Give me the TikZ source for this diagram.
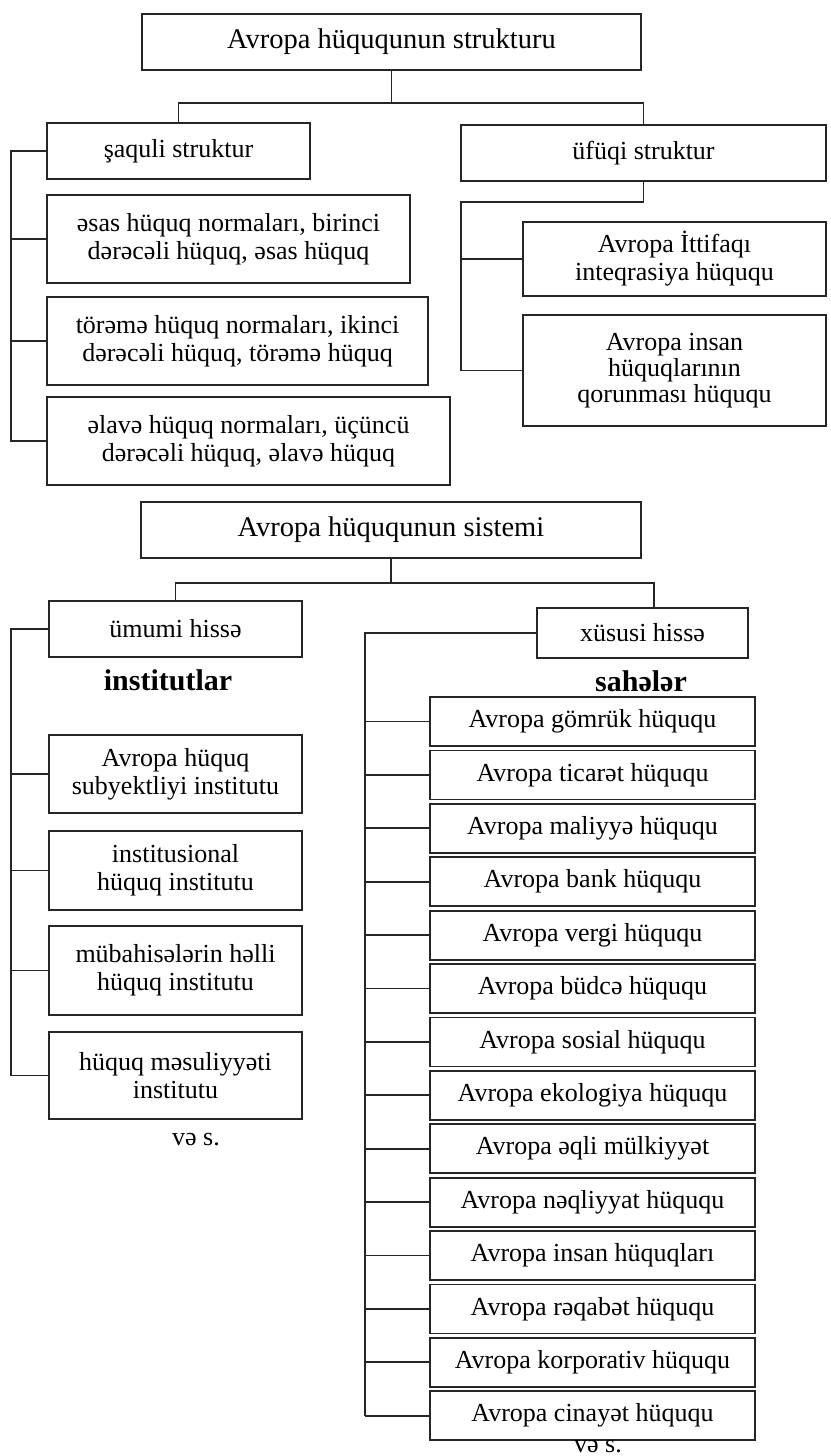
\documentclass[tikz,border=0pt]{standalone}
\usepackage{fontspec}
\setmainfont{Liberation Serif}
\begin{document}
\begin{tikzpicture}[x=1pt,y=-1pt,
  box/.style={draw=black!85, fill=white, line width=1.8pt, inner sep=0pt, align=center,
    font=\fontsize{26}{28}\selectfont},
  tbox/.style={box, font=\fontsize{28.5}{30}\selectfont},
  rbox/.style={box, minimum width=325pt, minimum height=49pt},
  lbox/.style={box, minimum width=253pt},
  conn/.style={draw=black!85, line width=1.8pt},
  head/.style={font=\fontsize{30}{32}\selectfont\bfseries, inner sep=0pt},
  note/.style={font=\fontsize{26}{28}\selectfont, inner sep=0pt}]
\useasboundingbox[fill=white] (0,0) rectangle (830,1456);

% ---------- structure ----------
\node[tbox, minimum width=499pt, minimum height=56pt] (top) at (391.5,42) {Avropa hüququnun strukturu};
\node[box, minimum width=263pt, minimum height=56pt] (saq) at (178.5,151) {şaquli struktur};
\node[box, minimum width=365pt, minimum height=56pt] (ufu) at (643.5,153) {üfüqi struktur};
\node[box, minimum width=363pt, minimum height=88pt] (esas) at (228.5,239) {əsas hüquq normaları, birinci\\dərəcəli hüquq, əsas hüquq};
\node[box, minimum width=381pt, minimum height=88pt] (torem) at (237.5,341) {törəmə hüquq normaları, ikinci\\dərəcəli hüquq, törəmə hüquq};
\node[box, minimum width=403pt, minimum height=88pt] (elave) at (248.5,441) {əlavə hüquq normaları, üçüncü\\dərəcəli hüquq, əlavə hüquq};
\node[box, minimum width=303pt, minimum height=74pt] (itt) at (674.5,259) {Avropa İttifaqı\\inteqrasiya hüququ};
\node[box, minimum width=303pt, minimum height=111pt, font=\fontsize{26}{26}\selectfont] (insan) at (674.5,370.5) {Avropa insan\\hüquqlarının\\qorunması hüququ};

\coordinate (j1) at (391.5,103);
\coordinate (LB) at (11,0);
\coordinate (RB) at (461,202);
\draw[conn] (top.south) -- (j1);
\draw[conn] (saq.north) |- (j1) -| (ufu.north);
\draw[conn] (saq.west) -- (saq.west -| LB) -- (elave.west -| LB) -- (elave.west);
\draw[conn] (esas.west -| LB) -- (esas.west);
\draw[conn] (torem.west -| LB) -- (torem.west);
\draw[conn] (ufu.south) |- (RB) -- (insan.west -| RB) -- (insan.west);
\draw[conn] (itt.west -| RB) -- (itt.west);

% ---------- system ----------
\node[tbox, minimum width=500pt, minimum height=56pt] (sis) at (391,530) {Avropa hüququnun sistemi};
\node[lbox, minimum height=56pt] (umu) at (175.5,629) {ümumi hissə};
\node[box, minimum width=211pt, minimum height=50pt] (xus) at (642.5,633) {xüsusi hissə};
\node[head] (inst) at (168,680) {institutlar};
\node[head] (sah) at (641,681) {sahələr};

\coordinate (j2) at (391,583);
\coordinate (xd) at (654,0);
\draw[conn] (sis.south) -- (j2);
\draw[conn] (umu.north) |- (j2) -| (xd |- xus.north);

\node[lbox, minimum height=78pt] (l1) at (175.5,774) {Avropa hüquq\\subyektliyi institutu};
\node[lbox, minimum height=79pt] (l2) at (175.5,870.5) {institusional\\hüquq institutu};
\node[lbox, minimum height=89pt] (l3) at (175.5,970.5) {mübahisələrin həlli\\hüquq institutu};
\node[lbox, minimum height=87pt] (l4) at (175.5,1075.5) {hüquq məsuliyyəti\\institutu};
\node[note] (vs1) at (196,1140) {və s.};

\draw[conn] (umu.west) -- (umu.west -| LB) -- (l4.west -| LB) -- (l4.west);
\foreach \k in {1,2,3} { \draw[conn] (l\k.west -| LB) -- (l\k.west); }

\coordinate (RB2) at (365,0);
\foreach \t [count=\i from 0] in {Avropa gömrük hüququ, Avropa ticarət hüququ, Avropa maliyyə hüququ,
  Avropa bank hüququ, Avropa vergi hüququ, Avropa büdcə hüququ, Avropa sosial hüququ,
  Avropa ekologiya hüququ, Avropa əqli mülkiyyət, Avropa nəqliyyat hüququ,
  Avropa insan hüquqları, Avropa rəqabət hüququ, Avropa korporativ hüququ, Avropa cinayət hüququ} {
  \node[rbox] (r\i) at (592.5,{721.5+53.4*\i}) {\t};
  \draw[conn] (r\i.west -| RB2) -- (r\i.west);
}
\draw[conn] (xus.west) -- (xus.west -| RB2) -- (r13.west -| RB2);
\node[note] (vs2) at (598,1447) {və s.};
\end{tikzpicture}
\end{document}
